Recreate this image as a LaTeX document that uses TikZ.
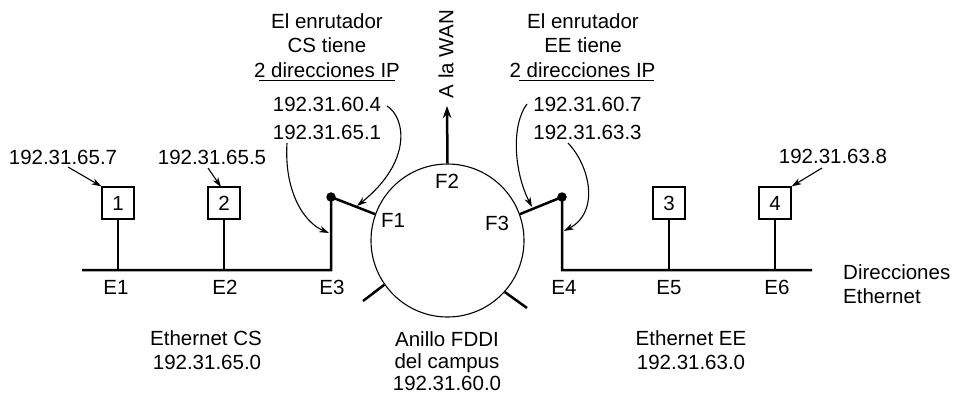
\documentclass[tikz,border=0pt]{standalone}
\usepackage{fontspec}
\setmainfont{Liberation Sans}
\usetikzlibrary{arrows.meta}
\begin{document}
\begin{tikzpicture}[x=1pt,y=-1pt,
  lbl/.style={inner sep=0pt,anchor=base,font=\fontsize{20.5}{24}\selectfont},
  clbl/.style={inner sep=0pt,anchor=center,font=\fontsize{20.5}{24}\selectfont},
  eth/.style={line width=2.5pt},
  thin/.style={line width=1.1pt},
  hostbox/.style={draw,line width=1.2pt,minimum size=32pt,inner sep=0pt,font=\fontsize{20.5}{24}\selectfont},
  joint/.style={circle,fill,minimum size=9.5pt,inner sep=0pt},
  ptr/.style={line width=1.1pt,-{Stealth[length=10pt,width=6.5pt]}},
  bigptr/.style={line width=2.5pt,-{Stealth[length=12pt,width=8.5pt]}}]
\useasboundingbox (0,0) rectangle (956,394);

% ring
\node[draw,circle,line width=1.1pt,minimum size=153pt,inner sep=0pt] (ring) at (447.5,240.5) {};
\node[clbl] (f1) at (393,220) {F1};
\node[clbl] (f2) at (447,181) {F2};
\node[clbl] (f3) at (497,223) {F3};
\coordinate (t1) at (363,301);
\coordinate (t2) at (527,308);
\draw[eth] (ring.215) -- (t1);
\draw[eth] (ring.318) -- (t2);

% WAN
\coordinate (wantip) at (447,106);
\draw[bigptr] (ring.north) -- (wantip);
\node[clbl,rotate=90] (wan) at (446,54) {A la WAN};

% CS ethernet
\coordinate (csL) at (82,270);
\coordinate (e1b) at (118,270);
\coordinate (e2b) at (224,270);
\coordinate (e3b) at (331,270);
\node[joint] (dotl) at (331,197) {};
\draw[eth] (csL) -- (e3b) -- (dotl.center) -- (ring.160);
\node[hostbox] (b1) at (118,203) {1};
\node[hostbox] (b2) at (224,203) {2};
\draw[eth] (b1.south) -- (e1b);
\draw[eth] (b2.south) -- (e2b);

% EE ethernet
\coordinate (eeR) at (812,270);
\coordinate (e4b) at (562,270);
\coordinate (e5b) at (669,270);
\coordinate (e6b) at (775,270);
\node[joint] (dotr) at (562,197) {};
\draw[eth] (eeR) -- (e4b) -- (dotr.center) -- (ring.20);
\node[hostbox] (b3) at (669,203) {3};
\node[hostbox] (b4) at (775,203) {4};
\draw[eth] (b3.south) -- (e5b);
\draw[eth] (b4.south) -- (e6b);

% E labels
\node[lbl] (E1) at (116,294) {E1};
\node[lbl] (E2) at (225,294) {E2};
\node[lbl] (E3) at (332,294) {E3};
\node[lbl] (E4) at (564,294) {E4};
\node[lbl] (E5) at (669,294) {E5};
\node[lbl] (E6) at (777,294) {E6};
\node[lbl,anchor=base west] (dir1) at (843,279) {Direcciones};
\node[lbl,anchor=base west] (dir2) at (843,303) {Ethernet};

% network names
\node[lbl] (cs1) at (206,345) {Ethernet CS};
\node[lbl] (cs2) at (207,369) {192.31.65.0};
\node[lbl] (ee1) at (691,345) {Ethernet EE};
\node[lbl] (ee2) at (691,369) {192.31.63.0};
\node[lbl] (an1) at (447,346) {Anillo FDDI};
\node[lbl] (an2) at (447,368) {del campus};
\node[lbl] (an3) at (447,390) {192.31.60.0};

% host addresses
\node[lbl] (h1) at (63,164) {192.31.65.7};
\node[lbl] (h2) at (212,164) {192.31.65.5};
\node[lbl] (h4) at (833,163) {192.31.63.8};
\coordinate (h1s) at (68,167);
\coordinate (h2s) at (208,168);
\coordinate (h4s) at (822,168);
\coordinate (b2t) at (221,187);
\draw[ptr] (h1s) -- (b1.north west);
\draw[ptr] (h2s) -- (b2t);
\draw[ptr] (h4s) -- (b4.north east);

% CS router text
\node[lbl] (rl1) at (327,28) {El enrutador};
\node[lbl] (rl2) at (327,52) {CS tiene};
\node[lbl] (rl3) at (327,77) {2 direcciones IP};
\draw[thin] ([xshift=5pt,yshift=-3.5pt]rl3.base west) -- ([xshift=-5pt,yshift=-3.5pt]rl3.base east);
\node[lbl] (rl4) at (327,111) {192.31.60.4};
\node[lbl] (rl5) at (327,139) {192.31.65.1};

% EE router text
\node[lbl] (rr1) at (583,28) {El enrutador};
\node[lbl] (rr2) at (583,52) {EE tiene};
\node[lbl] (rr3) at (582.5,77) {2 direcciones IP};
\draw[thin] ([xshift=10pt,yshift=-3.5pt]rr3.base west) -- ([xshift=-2pt,yshift=-3.5pt]rr3.base east);
\node[lbl] (rr4) at (587.5,111) {192.31.60.7};
\node[lbl] (rr5) at (587.5,139) {192.31.63.3};

% curved pointers
\coordinate (a1s) at (387,106);
\coordinate (a1e) at (357,206);
\draw[ptr] (a1s) .. controls (406,118) and (412,162) .. (a1e);
\coordinate (a2s) at (287,143);
\coordinate (a2e) at (329,233);
\draw[ptr] (a2s) .. controls (284,190) and (303,222) .. (a2e);
\coordinate (a3s) at (527,104);
\coordinate (a3e) at (532,207);
\draw[ptr] (a3s) .. controls (511,125) and (514,172) .. (a3e);
\coordinate (a4s) at (568,143);
\coordinate (a4e) at (564,231);
\draw[ptr] (a4s) .. controls (590,166) and (600,212) .. (a4e);
\end{tikzpicture}
\end{document}
